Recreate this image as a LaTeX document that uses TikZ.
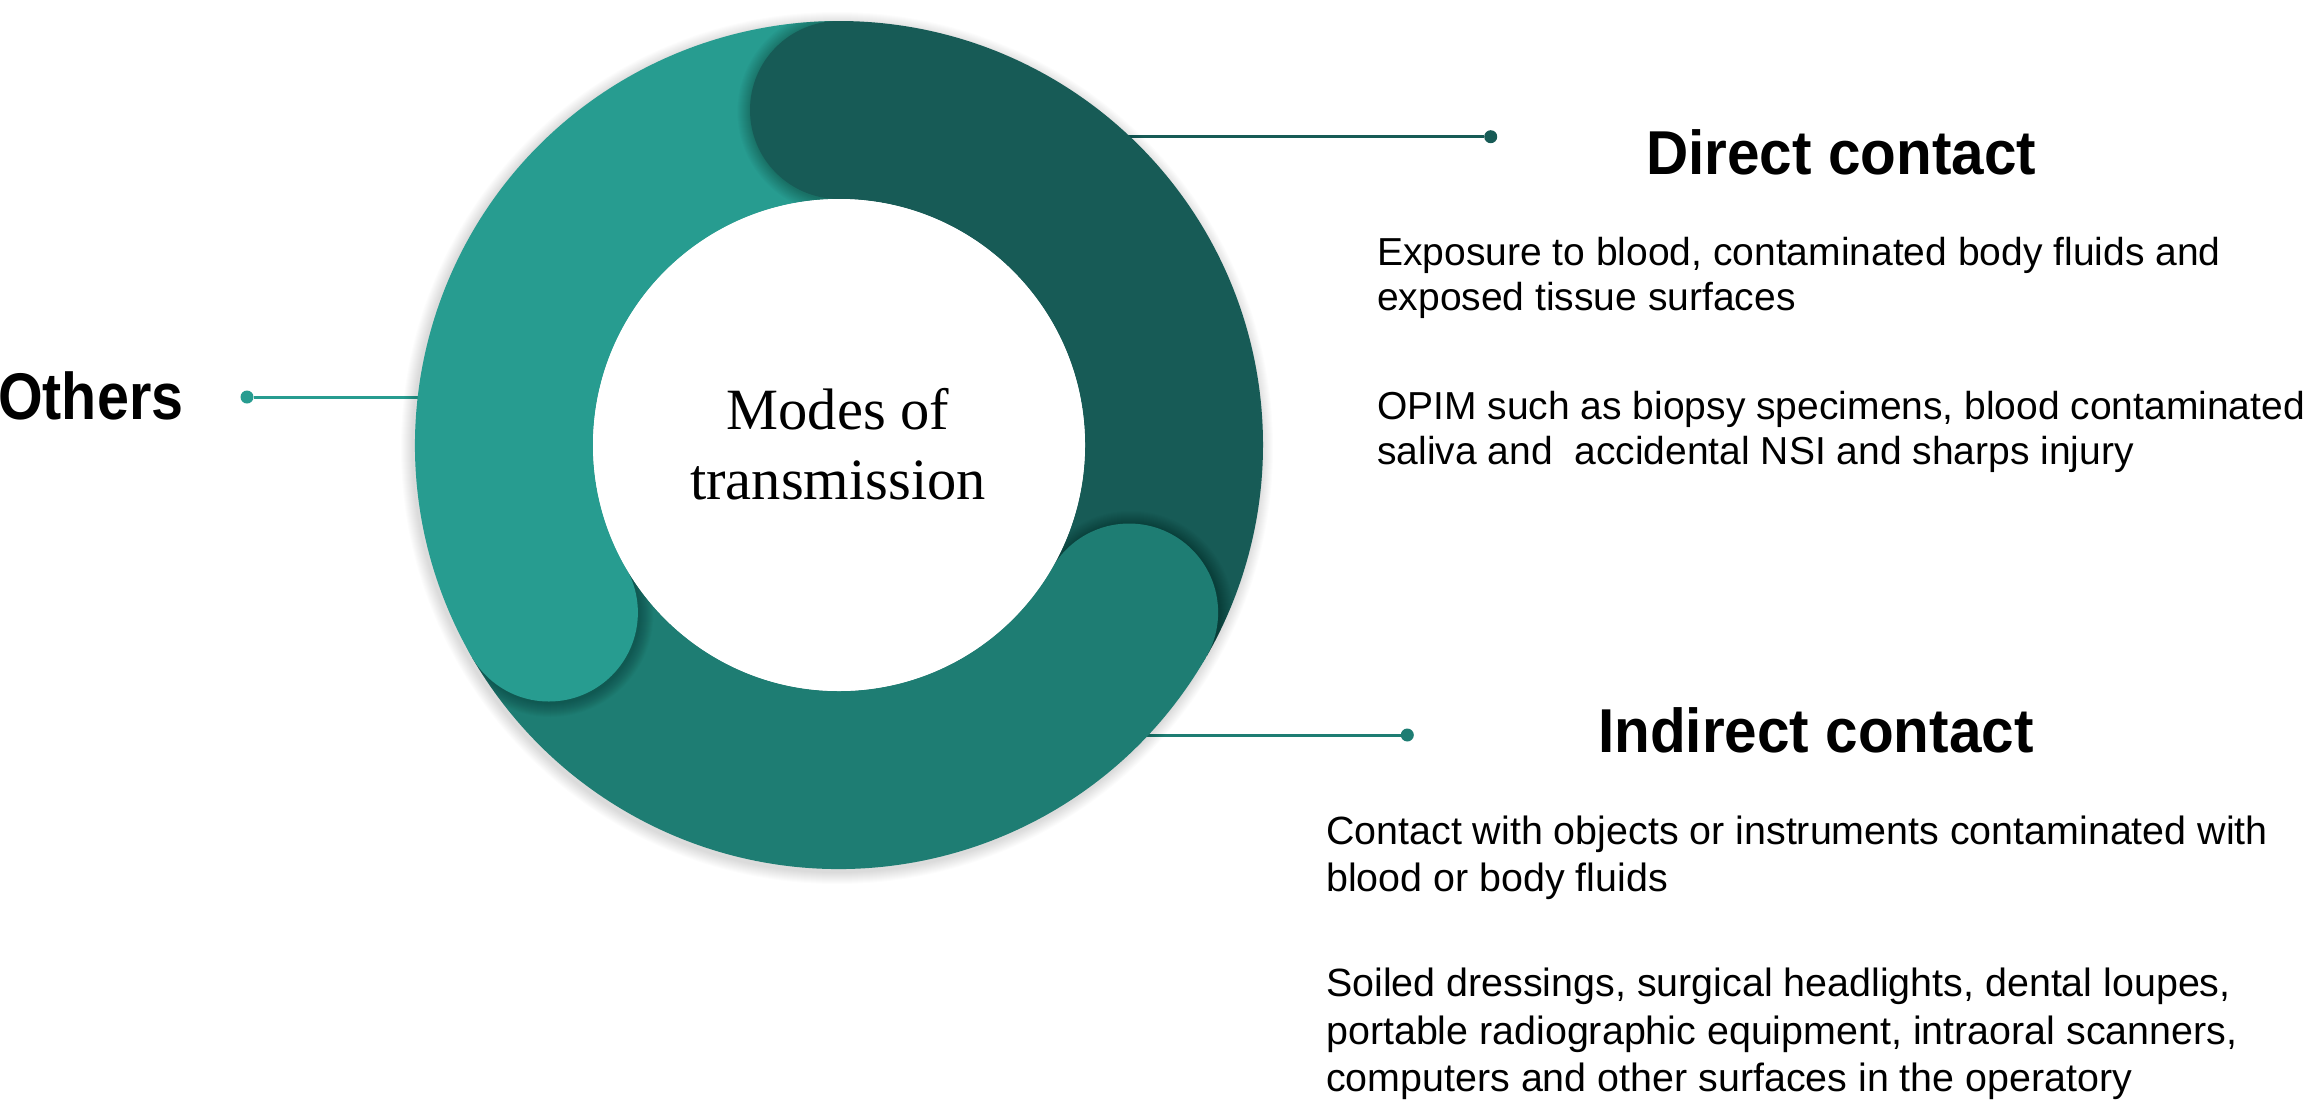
\documentclass[tikz,border=0pt]{standalone}
\usepackage{fontspec}
\setmainfont{Liberation Sans}
\newfontfamily\serifmodes{Liberation Serif}
\usetikzlibrary{calc}
\definecolor{segdark}{HTML}{175B56}
\definecolor{segmid}{HTML}{1E7D73}
\definecolor{seglight}{HTML}{279C90}
\begin{document}
\begin{tikzpicture}[x=1pt,y=1pt,
  band/.style={line width=178pt},
  link/.style={line width=3pt},
  dotnode/.style={circle, inner sep=0pt, minimum size=13pt},
  head/.style={inner sep=0pt, anchor=base west, font=\bfseries\fontsize{62}{70}\selectfont},
  body/.style={inner sep=0pt, anchor=base west, align=left, font=\fontsize{39}{45.5}\selectfont},
  bodyb/.style={body, font=\fontsize{39.4}{47.5}\selectfont}
]
\useasboundingbox (0,0) rectangle (2306,-1101);
\fill[white] (0,0) rectangle (2306,-1101);
\coordinate (C) at (839,-445);

% connectors (ring drawn on top of their inner ends)
\node[dotnode, fill=segdark] (dDirect) at (1490.7,-136.7) {};
\node[dotnode, fill=segmid] (dIndirect) at (1407.3,-735) {};
\node[dotnode, fill=seglight] (dOthers) at (247,-397) {};
\coordinate (rDirect) at (1100,-136.7);
\coordinate (rIndirect) at (1120,-735);
\coordinate (rOthers) at (440,-397);
\draw[link, segdark] (rDirect) -- (dDirect);
\draw[link, segmid] (rIndirect) -- (dIndirect);
\draw[link, seglight] (rOthers) -- (dOthers);

% soft shadow of the ring
\foreach \k in {1,...,12}
  \fill[black, opacity=0.01] ($(C)+(-2,-3)$) circle[radius={424+\k}];

% ring segments
\draw[band, seglight] ($(C)+(210:335)$) arc[start angle=210, end angle=90, radius=335pt];
\draw[band, segmid] ($(C)+(-30:335)$) arc[start angle=-30, end angle=-150, radius=335pt];
\draw[band, segdark] ($(C)+(90:335)$) arc[start angle=90, end angle=-30, radius=335pt];

% rounded caps with shadows
\foreach \a/\col in {90/segdark, -30/segmid, 210/seglight} {
  \begin{scope}
    \clip ($(C)+(\a:246)$) arc[start angle=\a, end angle=\a+45, radius=246pt]
      -- ($(C)+(\a+45:424)$) arc[start angle=\a+45, end angle=\a, radius=424pt] -- cycle;
    \foreach \k in {1,...,14}
      \fill[black, opacity=0.018] ($(C)+(\a:335)+(1.5,-1.5)$) circle[radius={89+\k}];
  \end{scope}
  \begin{scope}
    \clip ($(C)+(\a-2:246)$) arc[start angle=\a-2, end angle=\a+45, radius=246pt]
      -- ($(C)+(\a+45:424)$) arc[start angle=\a+45, end angle=\a-2, radius=424pt] -- cycle;
    \fill[\col] ($(C)+(\a:335)$) circle[radius=89];
  \end{scope}
}

% white hole
\fill[white] (C) circle[radius=246];

% centre title (anchor = baseline of last line)
\node[font=\serifmodes\fontsize{58.5}{70}\selectfont, align=center, inner sep=0pt, anchor=base] (title) at (838,-499.5) {Modes of\\transmission};

% headings
\node[head] (hDirect) at (1646,-174.3) {\scalebox{0.943}[1]{Direct contact}};
\node[head] (hIndirect) at (1598,-752.7) {\scalebox{0.943}[1]{Indirect contact}};
\node[head, font=\bfseries\fontsize{66}{74}\selectfont] (hOthers) at (-2,-419) {\scalebox{0.87}[1]{Others}};

% body texts (anchor = baseline of last line)
\node[body] (tDirA) at (1377,-310.5) {Exposure to blood, contaminated body fluids and\\exposed tissue surfaces};
\node[body] (tDirB) at (1377,-464.8) {OPIM such as biopsy specimens, blood contaminated\\saliva and\ \ accidental NSI and sharps injury};
\node[bodyb] (tIndA) at (1326,-891.5) {Contact with objects or instruments contaminated with\\blood or body fluids};
\node[bodyb] (tIndB) at (1326,-1091.7) {Soiled dressings, surgical headlights, dental loupes,\\portable radiographic equipment, intraoral scanners,\\computers and other surfaces in the operatory};
\end{tikzpicture}
\end{document}
